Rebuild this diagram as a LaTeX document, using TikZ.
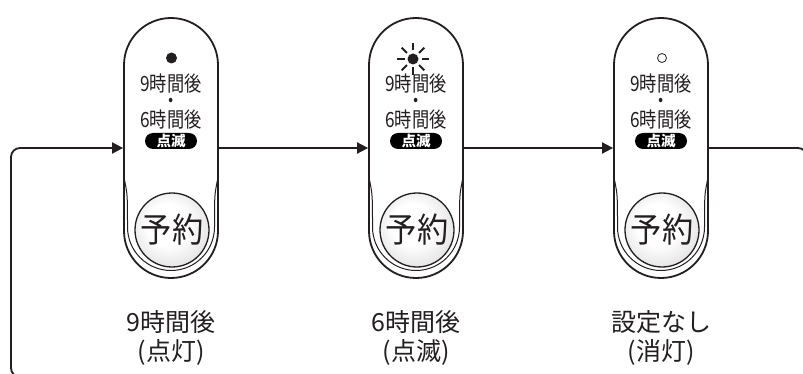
\documentclass[tikz,border=0pt]{standalone}
\usepackage{fontspec}
\setmainfont{Noto Sans CJK JP}
\newfontfamily\jp{Noto Sans CJK JP}
\newfontfamily\jpc[FakeStretch=0.82]{Noto Sans CJK JP}
\newfontfamily\jpb[FakeStretch=0.92]{Noto Sans CJK JP}
\usetikzlibrary{arrows.meta,calc}
\definecolor{ink}{HTML}{231F20}
\pgfdeclareradialshading{btnshade}{\pgfpoint{-4bp}{5bp}}{%
  color(0bp)=(white); color(14bp)=(white); color(30bp)=(black!12);
  color(36bp)=(black!22); color(50bp)=(black!22)}
\tikzset{
  capsule/.style={draw=ink, line width=1.8pt, rounded corners=47pt,
    minimum width=94pt, minimum height=260pt, inner sep=0pt},
  inneru/.style={draw=ink, line width=1pt},
  conn/.style={draw=ink, line width=1.8pt},
  arr/.style={-{Triangle[length=11pt,width=11pt]}},
  small/.style={inner sep=0pt, text=ink, align=center,
    font=\jpc\fontsize{21}{16.5}\selectfont},
  pill/.style={fill=black, rounded corners=8pt, minimum width=52pt,
    minimum height=16pt, inner sep=0pt, text=white,
    font=\jp\bfseries\fontsize{14.5}{14.5}\selectfont},
  button/.style={circle, draw=ink, line width=1.3pt, minimum size=74pt,
    inner sep=0pt, shading=btnshade,
    text=ink, font=\jpb\fontsize{34}{34}\selectfont},
  label/.style={align=center, inner sep=0pt, text=ink,
    font=\jp\fontsize{25}{29}\selectfont},
  lamp/.style={circle, minimum size=11pt, inner sep=0pt},
}
\begin{document}
\begin{tikzpicture}[x=1pt,y=-1pt]
\clip (0,0) rectangle (803,374);
\fill[white] (0,0) rectangle (803,374);
% capsules
\foreach \n/\cx in {1/171,2/416,3/661}{
  \node[capsule] (c\n) at (\cx,148) {};
  \draw[inneru] (\cx-46.5,180) .. controls (\cx-43.5,195) .. (\cx-43.5,227)
     arc[start angle=180, end angle=360, radius=43.5pt]
     .. controls (\cx+43.5,195) .. (\cx+46.5,180);
  \node[small] (t\n) at (\cx,101.5) {9時間後\\・\\6時間後};
  \node[pill] (p\n) at (\cx,141) {点滅};
  \node[button] (b\n) at (\cx+1,230) {予約};
}
% lamps
\node[lamp, fill=ink] (lamp1) at (171.5,58) {};
\node[lamp, fill=ink] (lamp2) at (413,59) {};
\foreach \a in {0,45,...,315}
  \draw[ink, line width=1.9pt] ($(lamp2)+(\a:8.5)$) -- ($(lamp2)+(\a:16)$);
\node[lamp, draw=ink, line width=0.8pt, minimum size=9pt] (lamp3) at (662,58) {};
% connectors
\draw[conn, arr] (c1.east) -- (c2.west);
\draw[conn, arr] (c2.east) -- (c3.west);
\draw[conn, arr, rounded corners=9pt] (c3.east) -- (807,148) -- (807,377)
  -- (11,377) -- (11,148) -- (c1.west);
% labels
\node[label] (l1) at (171,337.5) {9時間後\\(点灯)};
\node[label] (l2) at (416,337.5) {6時間後\\(点滅)};
\node[label] (l3) at (661,337.5) {設定なし\\(消灯)};
\end{tikzpicture}
\end{document}
